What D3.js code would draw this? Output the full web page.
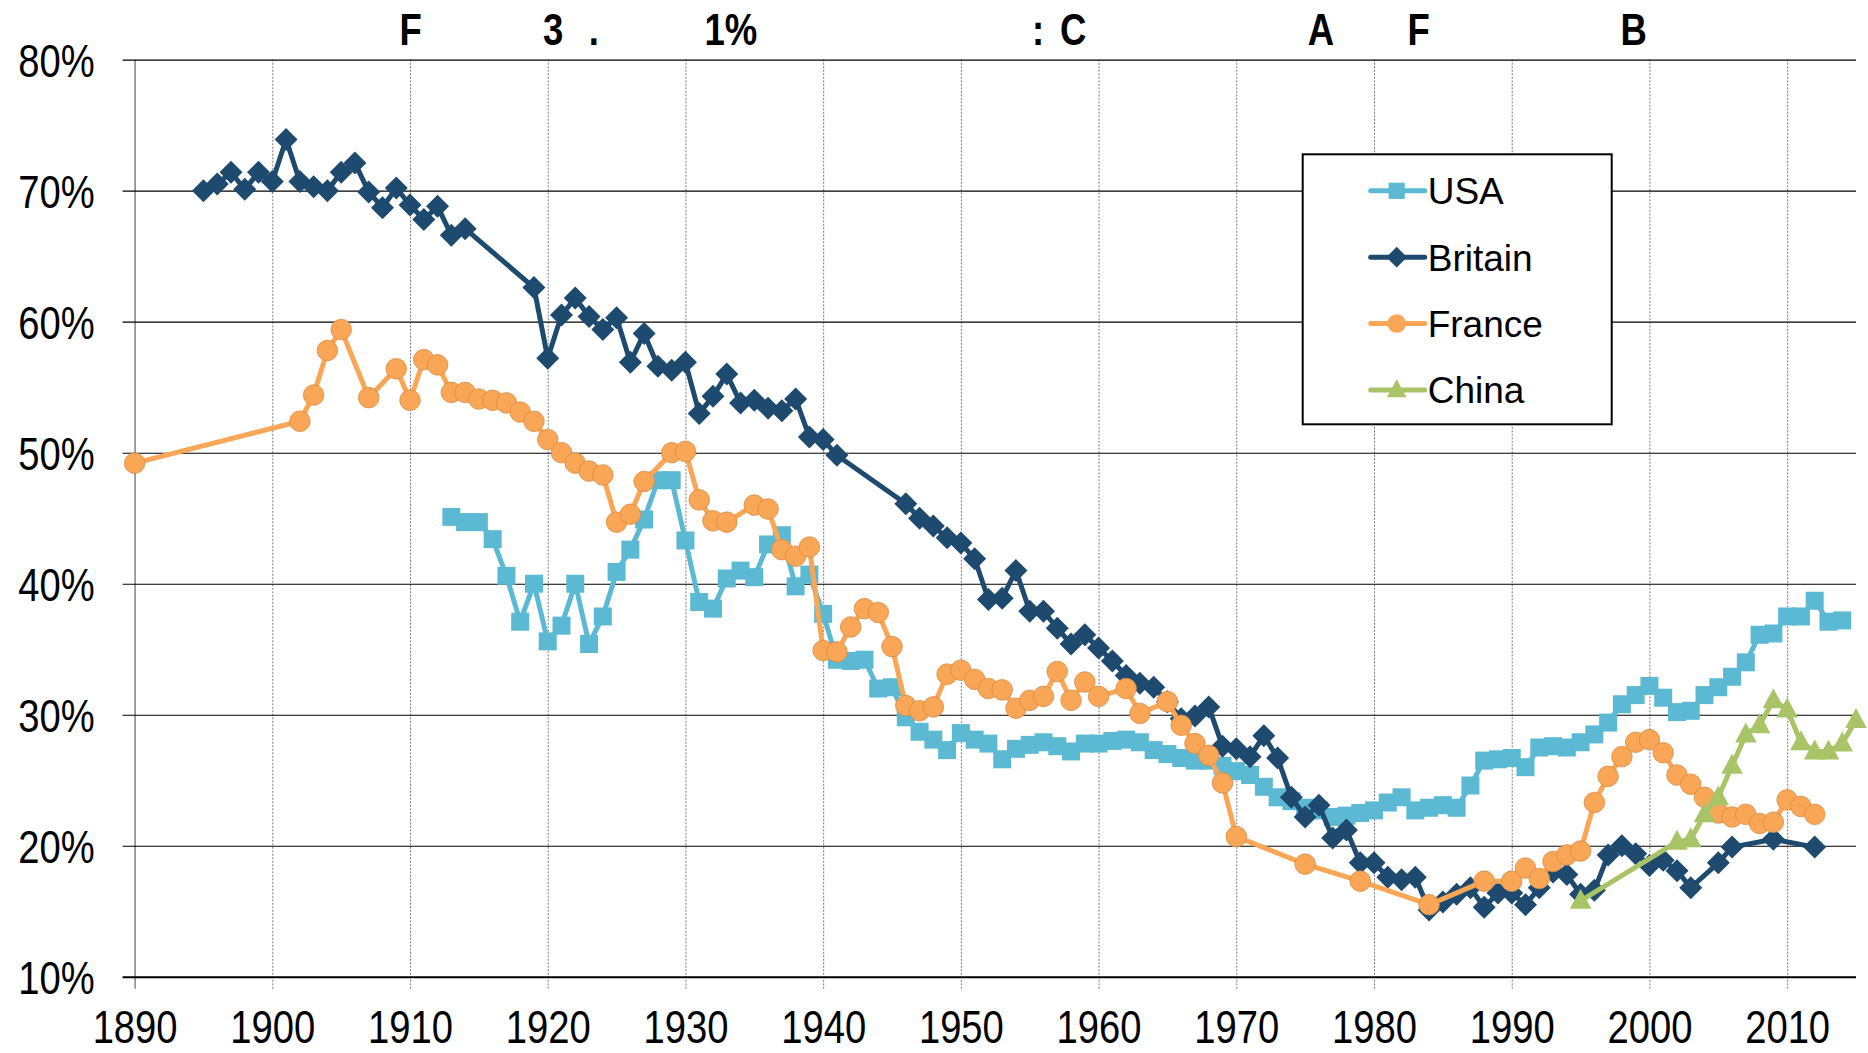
<!DOCTYPE html>
<html>
<head>
<meta charset="utf-8">
<script src="https://cdn.jsdelivr.net/npm/d3@7"></script>
<style>
  body { margin: 0; background: #fff; }
  svg { display: block; font-family: "Liberation Sans", Arial, sans-serif; }
</style>
</head>
<body>
<svg id="chart" width="1868" height="1053"></svg>
<script>
// values, [year, percent]
const usa = [
  [1913, 45.1], [1914, 44.7], [1915, 44.7], [1916, 43.4], [1917, 40.6], [1918, 37.1], [1919, 40.0],
  [1920, 35.6], [1921, 36.8], [1922, 40.0], [1923, 35.4], [1924, 37.5], [1925, 40.9], [1926, 42.6],
  [1927, 44.9], [1928, 47.9], [1929, 47.9], [1930, 43.3], [1931, 38.6], [1932, 38.1], [1933, 40.4],
  [1934, 41.0], [1935, 40.5], [1936, 43.0], [1937, 43.7], [1938, 39.8], [1939, 40.7], [1940, 37.7],
  [1941, 34.2], [1942, 34.1], [1943, 34.2], [1944, 32.0], [1945, 32.1], [1946, 29.8], [1947, 28.7],
  [1948, 28.1], [1949, 27.3], [1950, 28.6], [1951, 28.1], [1952, 27.8], [1953, 26.6], [1954, 27.4],
  [1955, 27.7], [1956, 27.9], [1957, 27.6], [1958, 27.2], [1959, 27.8], [1960, 27.8], [1961, 28.0],
  [1962, 28.1], [1963, 27.9], [1964, 27.3], [1965, 27.0], [1966, 26.7], [1967, 26.5], [1968, 26.5],
  [1969, 26.1], [1970, 25.7], [1971, 25.4], [1972, 24.5], [1973, 23.7], [1974, 23.4], [1975, 22.9],
  [1976, 22.7], [1977, 22.2], [1978, 22.3], [1979, 22.5], [1980, 22.7], [1981, 23.3], [1982, 23.7],
  [1983, 22.7], [1984, 22.9], [1985, 23.1], [1986, 22.9], [1987, 24.6], [1988, 26.5], [1989, 26.6],
  [1990, 26.7], [1991, 26.0], [1992, 27.5], [1993, 27.6], [1994, 27.5], [1995, 27.9], [1996, 28.5],
  [1997, 29.4], [1998, 30.8], [1999, 31.5], [2000, 32.2], [2001, 31.3], [2002, 30.2], [2003, 30.3],
  [2004, 31.5], [2005, 32.1], [2006, 32.9], [2007, 34.0], [2008, 36.1], [2009, 36.2], [2010, 37.5],
  [2011, 37.5], [2012, 38.7], [2013, 37.1], [2014, 37.2]
]

const britain = [
  [1895, 70.0], [1896, 70.5], [1897, 71.4], [1898, 70.1], [1899, 71.4], [1900, 70.7], [1901, 73.9],
  [1902, 70.7], [1903, 70.3], [1904, 70.0], [1905, 71.4], [1906, 72.1], [1907, 69.9], [1908, 68.7],
  [1909, 70.2], [1910, 68.9], [1911, 67.8], [1912, 68.8], [1913, 66.6], [1914, 67.1],
  [1919, 62.6], [1920, 57.2], [1921, 60.5], [1922, 61.8], [1923, 60.4], [1924, 59.4], [1925, 60.3],
  [1926, 56.9], [1927, 59.1], [1928, 56.6], [1929, 56.3], [1930, 56.9], [1931, 53.0], [1932, 54.3],
  [1933, 56.0], [1934, 53.8], [1935, 54.0], [1936, 53.4], [1937, 53.2], [1938, 54.1], [1939, 51.2],
  [1940, 51.0], [1941, 49.8],
  [1946, 46.1], [1947, 45.0], [1948, 44.4], [1949, 43.5], [1950, 43.1], [1951, 41.9], [1952, 38.8],
  [1953, 38.9], [1954, 41.0], [1955, 37.9], [1956, 37.9], [1957, 36.6], [1958, 35.4], [1959, 36.1],
  [1960, 35.1], [1961, 34.1], [1962, 33.0], [1963, 32.4], [1964, 32.1], [1965, 31.0], [1966, 29.7],
  [1967, 29.9], [1968, 30.6], [1969, 27.6], [1970, 27.4], [1971, 26.8], [1972, 28.4], [1973, 26.7],
  [1974, 23.7], [1975, 22.2], [1976, 23.1], [1977, 20.6], [1978, 21.2], [1979, 18.7], [1980, 18.7],
  [1981, 17.6], [1982, 17.4], [1983, 17.6], [1984, 15.1], [1985, 15.7], [1986, 16.3], [1987, 16.8],
  [1988, 15.3], [1989, 16.4], [1990, 16.4], [1991, 15.5], [1992, 16.8], [1993, 18.0], [1994, 17.8],
  [1995, 16.3], [1996, 16.6], [1997, 19.3], [1998, 20.0], [1999, 19.4], [2000, 18.5], [2001, 18.9],
  [2002, 18.1], [2003, 16.8], [2005, 18.7], [2006, 19.9], [2009, 20.5], [2012, 19.9]
]

const france = [
  [1890, 49.2], [1902, 52.4], [1903, 54.4], [1904, 57.8], [1905, 59.4], [1907, 54.2], [1909, 56.4],
  [1910, 54.0], [1911, 57.1], [1912, 56.7], [1913, 54.6], [1914, 54.6], [1915, 54.1], [1916, 54.0],
  [1917, 53.8], [1918, 53.1], [1919, 52.4], [1920, 51.0], [1921, 50.0], [1922, 49.2], [1923, 48.6],
  [1924, 48.3], [1925, 44.7], [1926, 45.3], [1927, 47.8], [1929, 50.0], [1930, 50.1], [1931, 46.4],
  [1932, 44.8], [1933, 44.7], [1935, 46.0], [1936, 45.7], [1937, 42.6], [1938, 42.1], [1939, 42.8],
  [1940, 34.9], [1941, 34.8], [1942, 36.7], [1943, 38.1], [1944, 37.8], [1945, 35.2], [1946, 30.7],
  [1947, 30.3], [1948, 30.6], [1949, 33.1], [1950, 33.4], [1951, 32.7], [1952, 32.0], [1953, 31.9],
  [1954, 30.5], [1955, 31.1], [1956, 31.4], [1957, 33.3], [1958, 31.1], [1959, 32.5], [1960, 31.4],
  [1962, 32.0], [1963, 30.1], [1965, 31.0], [1966, 29.2], [1967, 27.8], [1968, 26.9], [1969, 24.8],
  [1970, 20.7], [1975, 18.6], [1979, 17.3], [1984, 15.5], [1988, 17.3], [1990, 17.3], [1991, 18.3],
  [1992, 17.5], [1993, 18.8], [1994, 19.3], [1995, 19.6], [1996, 23.3], [1997, 25.3], [1998, 26.8],
  [1999, 27.9], [2000, 28.1], [2001, 27.1], [2002, 25.4], [2003, 24.7], [2004, 23.7], [2005, 22.5],
  [2006, 22.2], [2007, 22.4], [2008, 21.7], [2009, 21.8], [2010, 23.5], [2011, 23.0], [2012, 22.4]
]

const china = [
  [1995, 15.8], [2002, 20.3], [2003, 20.5], [2004, 22.4], [2005, 23.7], [2006, 26.1], [2007, 28.5],
  [2008, 29.2], [2009, 31.1], [2010, 30.4], [2011, 27.9], [2012, 27.2], [2013, 27.2], [2014, 27.8],
  [2015, 29.6]
]

const seriesNames = ["USA", "Britain", "France", "China"]
const seriesData = [usa, britain, france, china]
const seriesColors = ["#5cb9d3", "#1f4a70", "#f9a656", "#a9c467"]
const seriesMarkers = ["square", "diamond", "circle", "triangle"]

const xTicks = [1890, 1900, 1910, 1920, 1930, 1940, 1950, 1960, 1970, 1980, 1990, 2000, 2010]
const yTicks = [10, 20, 30, 40, 50, 60, 70, 80]

// header fragments as they appear above the plot, placed by year
const topLabels = ["F", "3", ".", "1%", ":", "C", "A", "F", "B"]
const topLabelYears = [1910.05, 1920.4, 1923.35, 1933.3, 1955.6, 1958.15, 1976.15, 1983.25, 1998.85]

const svg = d3.select("#chart")

const x = d3.scaleLinear().domain([1890, 2015]).range([134.6, 1856])
const y = d3.scaleLinear().domain([10, 80]).range([976.8, 59.6])

const plotW = x(2015) - x(1890)
const plotH = y(10) - y(80)
const squeeze = "scale(0.83,1)"

function markerPath(kind) {
  if (kind == "square") return "M-9,-9H9V9H-9Z"
  if (kind == "diamond") return "M0,-11.5L11.5,0L0,11.5L-11.5,0Z"
  if (kind == "circle") return "M10.3,0A10.3,10.3 0 1,1 -10.3,0A10.3,10.3 0 1,1 10.3,0Z"
  return "M0,-12L10.8,8L-10.8,8Z"
}

// y axis + horizontal grid
const yAxis = d3.axisLeft(y).tickValues(yTicks).tickSize(-plotW).tickFormat(d => d + "%")
const yG = svg.append("g")
  .attr("transform", `translate(${x(1890)},0)`)
  .call(yAxis)
yG.select(".domain").remove()
yG.selectAll(".tick line")
  .attr("x1", -12)
  .attr("stroke", "#000")
  .attr("stroke-width", d => d == 10 ? 2 : 1.1)
yG.selectAll(".tick text")
  .attr("x", 0)
  .attr("dy", "0.36em")
  .attr("transform", "translate(-40,0) " + squeeze)
  .attr("font-size", 46)
  .attr("font-family", '"Liberation Sans", Arial, sans-serif')
  .attr("fill", "#000")

// x axis + vertical grid
const xAxis = d3.axisBottom(x).tickValues(xTicks).tickSize(-plotH).tickFormat(d3.format("d"))
const xG = svg.append("g")
  .attr("transform", `translate(0,${y(10)})`)
  .call(xAxis)
xG.select(".domain").remove()
xG.selectAll(".tick line")
  .attr("y1", 12)
  .attr("stroke", d => d == 1890 ? "#8a8a8a" : "#7a7a7a")
  .attr("stroke-width", d => d == 1890 ? 1.6 : 1)
  .attr("stroke-dasharray", d => d == 1890 ? null : "2,1.5")
xG.selectAll(".tick text")
  .attr("y", 0)
  .attr("dy", 0)
  .attr("transform", "translate(0,66) " + squeeze)
  .attr("font-size", 46)
  .attr("font-family", '"Liberation Sans", Arial, sans-serif')
  .attr("fill", "#000")

// horizontal lines should sit over the dotted verticals
yG.raise()

// header fragments
svg.append("g").selectAll("text")
  .data(topLabels)
  .enter()
  .append("text")
  .attr("transform", (d, i) => `translate(${x(topLabelYears[i])},45) ${squeeze}`)
  .attr("text-anchor", "middle")
  .attr("font-size", 44)
  .attr("font-weight", "bold")
  .text(d => d)

// series: lines then markers, in legend order
const line = d3.line()
  .x(d => x(d[0]))
  .y(d => y(d[1]))

seriesData.forEach((data, i) => {
  const g = svg.append("g")
  g.append("path")
    .datum(data)
    .attr("d", line)
    .attr("fill", "none")
    .attr("stroke", seriesColors[i])
    .attr("stroke-width", 5)
    .attr("stroke-linejoin", "round")
    .attr("stroke-linecap", "round")

  g.selectAll(".mark")
    .data(data)
    .enter()
    .append("path")
    .attr("class", "mark")
    .attr("transform", d => `translate(${x(d[0])},${y(d[1])})`)
    .attr("d", markerPath(seriesMarkers[i]))
    .attr("fill", seriesColors[i])
    .attr("stroke", seriesMarkers[i] == "circle" ? "#d88a44" : "none")
    .attr("stroke-width", 0.8)
})

// legend
const legend = svg.append("g").attr("transform", "translate(1302.7,154.3)")
legend.append("rect")
  .attr("width", 309)
  .attr("height", 270)
  .attr("fill", "#fff")
  .attr("stroke", "#000")
  .attr("stroke-width", 2)

const legendRows = legend.selectAll(".row")
  .data(seriesNames)
  .enter()
  .append("g")
  .attr("class", "row")
  .attr("transform", (d, i) => `translate(0,${36.5 + i * 66.4})`)

legendRows.append("line")
  .attr("x1", 68)
  .attr("x2", 122)
  .attr("stroke", (d, i) => seriesColors[i])
  .attr("stroke-width", 5)
  .attr("stroke-linecap", "round")

legendRows.append("path")
  .attr("transform", "translate(94,0) scale(0.9)")
  .attr("d", (d, i) => markerPath(seriesMarkers[i]))
  .attr("fill", (d, i) => seriesColors[i])

legendRows.append("text")
  .attr("x", 125)
  .attr("dy", "0.36em")
  .attr("font-size", 37)
  .text(d => d)
</script>
</body>
</html>
